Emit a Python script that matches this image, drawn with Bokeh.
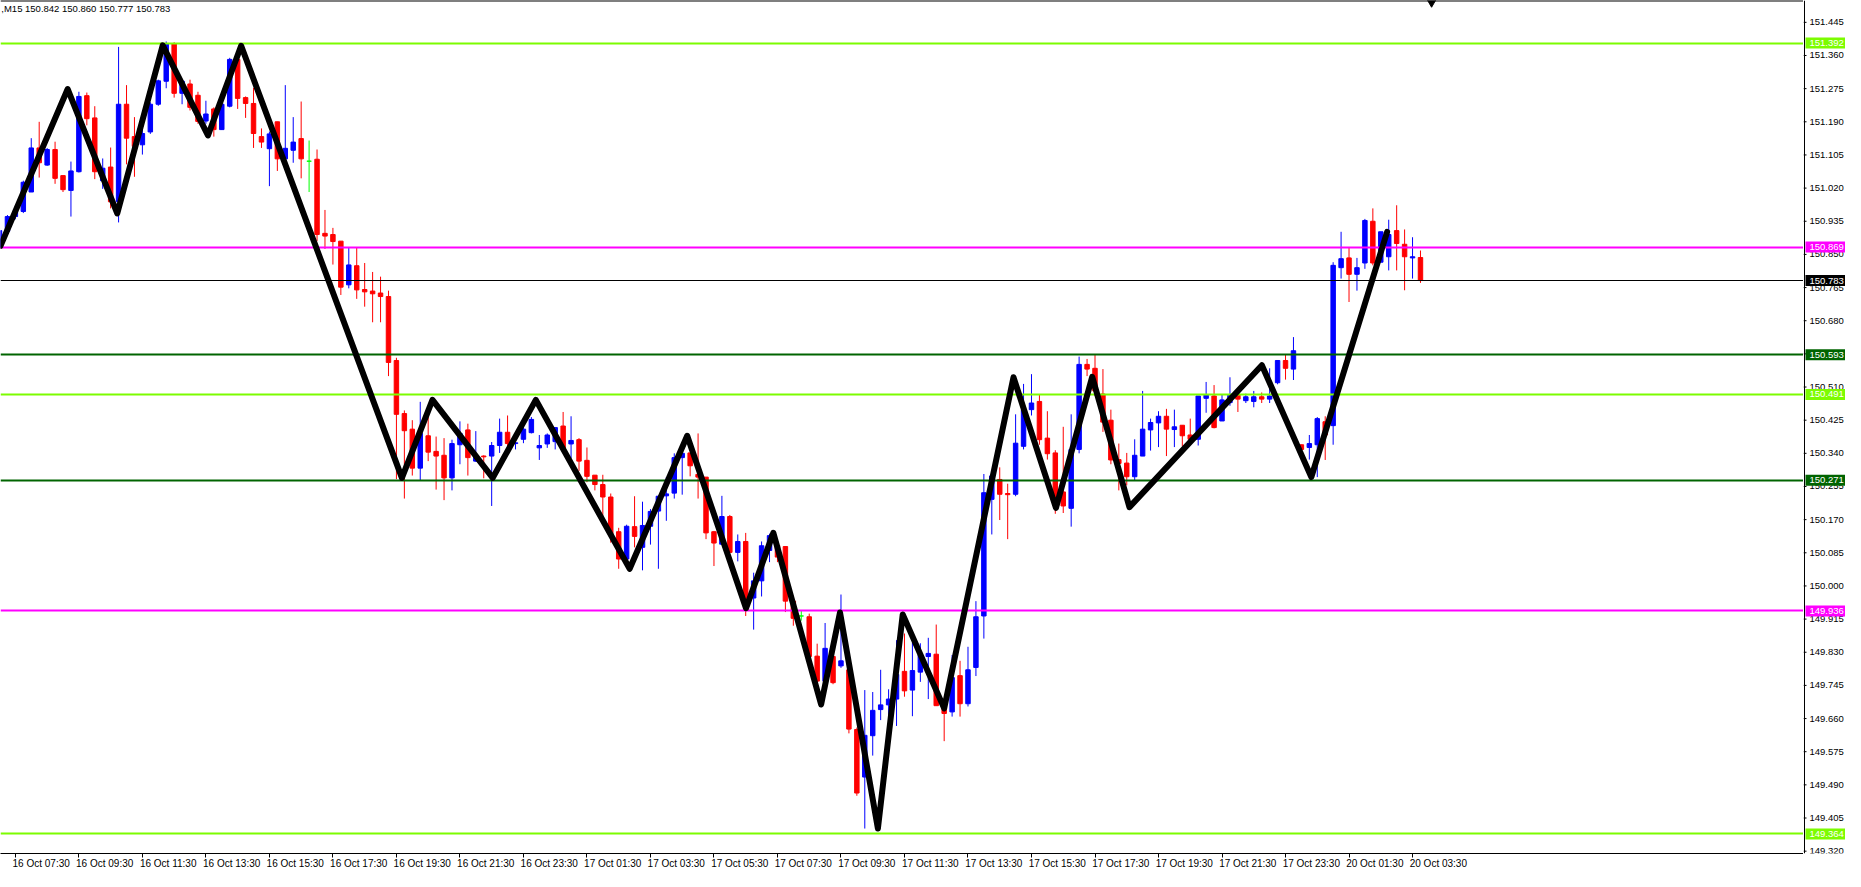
from bokeh.plotting import figure
from bokeh.layouts import row
from bokeh.models import ColumnDataSource, FixedTicker, Range1d, Label
from bokeh.core.properties import value
from bokeh.embed import file_html
from bokeh.resources import INLINE

FONT = "Liberation Sans"
FS = "9.5px"
FS_X = "10px"

# ---------------- data (USDJPY M15, 16 Oct 07:00 -> 20 Oct 03:45) ----------------
opens = [150.868, 150.909, 150.947, 150.960, 151.010, 151.123, 151.079, 151.119, 151.052, 151.014,
         151.062, 151.257, 151.200, 151.039, 151.074, 150.985, 151.235, 151.152, 151.131, 151.164,
         151.235, 151.294, 151.390, 151.263, 151.287, 151.258, 151.192, 151.223, 151.170, 151.230,
         151.350, 151.252, 151.237, 151.152, 151.121, 151.190, 151.095, 151.117, 151.147, 151.089,
         151.094, 150.904, 150.901, 150.884, 150.772, 150.821, 150.760, 150.756, 150.751, 150.742,
         150.578, 150.442, 150.402, 150.302, 150.385, 150.345, 150.335, 150.277, 150.362, 150.400,
         150.320, 150.333, 150.333, 150.360, 150.394, 150.365, 150.376, 150.393, 150.354, 150.364,
         150.370, 150.410, 150.364, 150.375, 150.322, 150.284, 150.260, 150.228, 150.139, 150.069,
         150.152, 150.099, 150.153, 150.192, 150.231, 150.238, 150.329, 150.341, 150.286, 150.279,
         150.139, 150.107, 150.178, 150.086, 150.114, 149.969, 150.013, 150.091, 150.104, 150.101,
         149.961, 149.923, 149.921, 149.820, 149.756, 149.819, 149.795, 149.785, 149.632, 149.510,
         149.616, 149.683, 149.695, 149.710, 149.781, 149.733, 149.779, 149.819, 149.825, 149.693,
         149.677, 149.770, 149.698, 149.791, 149.923, 150.222, 150.273, 150.237, 150.235, 150.358,
         150.452, 150.473, 150.379, 150.341, 150.241, 150.199, 150.350, 150.568, 150.558, 150.492,
         150.425, 150.324, 150.315, 150.280, 150.333, 150.400, 150.418, 150.435, 150.401, 150.412,
         150.387, 150.376, 150.481, 150.487, 150.423, 150.470, 150.489, 150.475, 150.473, 150.485,
         150.479, 150.521, 150.578, 150.556, 150.362, 150.355, 150.362, 150.421, 150.411, 150.816,
         150.841, 150.799, 150.828, 150.935, 150.830, 150.844, 150.911, 150.876, 150.841, 150.842]
highs = [150.918, 150.951, 150.975, 151.039, 151.148, 151.190, 151.123, 151.139, 151.052, 151.088,
         151.267, 151.265, 151.230, 151.096, 151.124, 151.382, 151.284, 151.202, 151.169, 151.240,
         151.298, 151.396, 151.394, 151.298, 151.298, 151.267, 151.244, 151.227, 151.240, 151.354,
         151.353, 151.255, 151.277, 151.173, 151.165, 151.190, 151.284, 151.202, 151.242, 151.142,
         151.119, 150.964, 150.918, 150.884, 150.868, 150.868, 150.828, 150.805, 150.793, 150.757,
         150.585, 150.450, 150.425, 150.472, 150.433, 150.383, 150.379, 150.375, 150.422, 150.416,
         150.397, 150.335, 150.369, 150.429, 150.437, 150.383, 150.416, 150.433, 150.387, 150.391,
         150.406, 150.446, 150.435, 150.379, 150.355, 150.284, 150.285, 150.237, 150.149, 150.157,
         150.230, 150.216, 150.197, 150.230, 150.279, 150.340, 150.350, 150.341, 150.391, 150.279,
         150.141, 150.231, 150.182, 150.132, 150.136, 150.034, 150.114, 150.134, 150.111, 150.101,
         149.961, 149.936, 149.929, 149.852, 149.905, 149.848, 149.978, 149.795, 149.637, 149.733,
         149.728, 149.785, 149.735, 149.861, 149.878, 149.856, 149.853, 149.867, 149.901, 149.706,
         149.823, 149.808, 149.844, 149.961, 150.287, 150.297, 150.304, 150.262, 150.440, 150.518,
         150.543, 150.492, 150.448, 150.348, 150.408, 150.440, 150.588, 150.582, 150.594, 150.556,
         150.452, 150.365, 150.341, 150.376, 150.500, 150.429, 150.448, 150.454, 150.452, 150.412,
         150.429, 150.487, 150.523, 150.515, 150.490, 150.535, 150.489, 150.493, 150.500, 150.496,
         150.558, 150.578, 150.594, 150.638, 150.362, 150.387, 150.433, 150.435, 150.830, 150.908,
         150.868, 150.841, 150.941, 150.968, 150.908, 150.939, 150.976, 150.914, 150.894, 150.860]
lows = [150.864, 150.908, 150.940, 150.956, 151.010, 151.047, 151.077, 151.031, 151.010, 150.947,
        151.060, 151.181, 151.043, 151.018, 150.968, 150.932, 151.081, 151.049, 151.106, 151.159,
        151.231, 151.276, 151.252, 151.235, 151.219, 151.185, 151.185, 151.152, 151.169, 151.227,
        151.223, 151.200, 151.123, 151.123, 151.025, 151.064, 151.085, 151.085, 151.045, 151.010,
        150.884, 150.864, 150.824, 150.746, 150.763, 150.736, 150.716, 150.676, 150.676, 150.538,
        150.274, 150.224, 150.283, 150.270, 150.320, 150.247, 150.220, 150.245, 150.312, 150.283,
        150.318, 150.276, 150.205, 150.341, 150.350, 150.350, 150.366, 150.391, 150.323, 150.354,
        150.350, 150.345, 150.327, 150.295, 150.266, 150.245, 150.178, 150.111, 150.044, 150.061,
        150.099, 150.040, 150.106, 150.044, 150.167, 150.224, 150.234, 150.281, 150.224, 150.120,
        150.051, 150.107, 150.086, 150.063, 149.923, 149.888, 149.973, 150.061, 150.061, 149.933,
        149.898, 149.911, 149.798, 149.748, 149.748, 149.748, 149.790, 149.622, 149.462, 149.378,
        149.565, 149.656, 149.641, 149.641, 149.716, 149.666, 149.754, 149.710, 149.693, 149.602,
        149.665, 149.665, 149.691, 149.769, 149.865, 150.132, 150.169, 150.120, 150.230, 150.350,
        150.437, 150.362, 150.324, 150.185, 150.187, 150.152, 150.340, 150.538, 150.487, 150.395,
        150.312, 150.245, 150.258, 150.270, 150.333, 150.347, 150.356, 150.333, 150.356, 150.358,
        150.370, 150.360, 150.444, 150.404, 150.423, 150.462, 150.446, 150.469, 150.458, 150.469,
        150.469, 150.517, 150.529, 150.528, 150.345, 150.324, 150.279, 150.323, 150.362, 150.788,
        150.728, 150.757, 150.813, 150.822, 150.830, 150.809, 150.809, 150.758, 150.788, 150.777]
closes = [150.911, 150.947, 150.962, 151.035, 151.123, 151.085, 151.119, 151.045, 151.016, 151.064,
          151.255, 151.198, 151.062, 151.071, 150.985, 151.235, 151.148, 151.127, 151.160, 151.235,
          151.295, 151.390, 151.263, 151.294, 151.227, 151.191, 151.210, 151.170, 151.235, 151.350,
          151.250, 151.237, 151.160, 151.138, 151.159, 151.095, 151.122, 151.138, 151.095, 151.089,
          150.901, 150.897, 150.883, 150.766, 150.823, 150.759, 150.754, 150.749, 150.742, 150.573,
          150.440, 150.398, 150.302, 150.391, 150.343, 150.333, 150.277, 150.365, 150.391, 150.329,
          150.333, 150.331, 150.360, 150.394, 150.365, 150.367, 150.402, 150.427, 150.360, 150.387,
          150.406, 150.350, 150.373, 150.320, 150.281, 150.260, 150.228, 150.129, 150.069, 150.153,
          150.127, 150.155, 150.191, 150.230, 150.236, 150.329, 150.340, 150.308, 150.279, 150.136,
          150.110, 150.178, 150.086, 150.114, 149.957, 150.013, 150.103, 150.129, 150.074, 149.961,
          149.917, 149.923, 149.819, 149.756, 149.840, 149.752, 149.808, 149.633, 149.469, 149.617,
          149.681, 149.695, 149.710, 149.773, 149.731, 149.783, 149.823, 149.827, 149.693, 149.673,
          149.765, 149.698, 149.785, 149.921, 150.239, 150.282, 150.235, 150.234, 150.366, 150.452,
          150.469, 150.375, 150.339, 150.207, 150.205, 150.350, 150.568, 150.556, 150.500, 150.420,
          150.323, 150.314, 150.280, 150.335, 150.402, 150.419, 150.435, 150.402, 150.408, 150.385,
          150.376, 150.487, 150.489, 150.406, 150.477, 150.489, 150.479, 150.485, 150.485, 150.479,
          150.487, 150.578, 150.558, 150.603, 150.350, 150.365, 150.429, 150.387, 150.822, 150.839,
          150.799, 150.816, 150.937, 150.828, 150.908, 150.901, 150.878, 150.844, 150.844, 150.783]

# time-axis labels (every 8th M15 bar) and the bar they belong to
x_tick_bars = [2, 10, 18, 26, 34, 42, 50, 58, 66, 74, 82, 90, 98, 106, 114, 122, 130, 138,
               146, 154, 162, 170, 178]
x_tick_labels = ["16 Oct 07:30", "16 Oct 09:30", "16 Oct 11:30", "16 Oct 13:30", "16 Oct 15:30",
                 "16 Oct 17:30", "16 Oct 19:30", "16 Oct 21:30", "16 Oct 23:30", "17 Oct 01:30",
                 "17 Oct 03:30", "17 Oct 05:30", "17 Oct 07:30", "17 Oct 09:30", "17 Oct 11:30",
                 "17 Oct 13:30", "17 Oct 15:30", "17 Oct 17:30", "17 Oct 19:30", "17 Oct 21:30",
                 "17 Oct 23:30", "20 Oct 01:30", "20 Oct 03:30"]

price_ticks = [151.445, 151.360, 151.275, 151.190, 151.105, 151.020, 150.935, 150.850, 150.765,
               150.680, 150.595, 150.510, 150.425, 150.340, 150.255, 150.170, 150.085, 150.000,
               149.915, 149.830, 149.745, 149.660, 149.575, 149.490, 149.405, 149.320]

levels = [151.392, 150.869, 150.783, 150.593, 150.491, 150.271, 149.936, 149.364]
level_colors = ["#7CFC00", "#FF00FF", "#000000", "#006400", "#7CFC00", "#006400", "#FF00FF", "#7CFC00"]
level_widths = [2, 2, 1, 2, 2, 2, 2, 2]

# zigzag pivots (bar position, price)
zz_bar = [0.125, 8.59, 14.83, 20.56, 26.26, 30.44, 50.69, 54.54, 62.13, 67.56, 79.38, 86.63,
          94.04, 97.48, 103.5, 105.88, 110.65, 113.78, 119.0, 127.73, 133.08, 137.65, 142.34,
          159.02, 165.25, 174.8]
zz_price = [150.872, 151.274, 150.955, 151.386, 151.155, 151.385, 150.277, 150.477, 150.277,
            150.477, 150.044, 150.385, 149.943, 150.136, 149.696, 149.932, 149.378, 149.927,
            149.686, 150.535, 150.200, 150.536, 150.202, 150.566, 150.279, 150.908]

header = ",M15  150.842 150.860 150.777 150.783"

# ---------------- layout ----------------
X0, X1 = 0.125, 227.25
Y0, Y1 = 149.314, 151.501
H = 871
BOT = 16          # room for the time labels
SCALE_W = 42      # width of the price scale strip
MAIN_W = 1845 - SCALE_W

p = figure(width=MAIN_W, height=H, output_backend="svg", toolbar_location=None,
           x_range=Range1d(X0, X1), y_range=Range1d(Y0, Y1), y_axis_location=None,
           min_border_left=0, min_border_top=0, min_border_right=0, min_border_bottom=BOT)
p.xgrid.visible = False
p.ygrid.visible = False
p.outline_line_color = None
p.background_fill_color = "white"
p.border_fill_color = "white"

# time axis: labels sit to the right of their tick mark
off = 3.25
xa = p.xaxis[0]
xa.ticker = FixedTicker(ticks=[b + off for b in x_tick_bars], minor_ticks=x_tick_bars)
xa.major_label_overrides = {b + off: t for b, t in zip(x_tick_bars, x_tick_labels)}
xa.major_tick_line_color = None
xa.major_tick_out = 0
xa.major_tick_in = 0
xa.minor_tick_line_color = "black"
xa.minor_tick_out = 4
xa.minor_tick_in = 0
xa.major_label_standoff = 0
xa.axis_label_standoff = 0
xa.axis_line_color = "black"
xa.major_label_text_font = FONT
xa.major_label_text_font_size = FS_X
xa.major_label_text_color = "black"

# top border of the chart window
p.hspan(y=[Y1], line_color="black", line_width=2)

# candles
src = ColumnDataSource(dict(
    x=list(range(len(opens))), h=highs, l=lows,
    top=[max(o, c) for o, c in zip(opens, closes)],
    bot=[min(o, c) for o, c in zip(opens, closes)],
    col=["#0000FF" if c > o else ("#FF0000" if c < o else "#00FF00") for o, c in zip(opens, closes)],
))
p.segment(x0="x", y0="l", x1="x", y1="h", line_color="col", line_width=1, source=src)
p.vbar(x="x", top="top", bottom="bot", width=0.56, fill_color="col", line_color="col",
       line_width=1, source=src)

# horizontal levels
lsrc = ColumnDataSource(dict(y=levels, c=level_colors, w=level_widths))
p.hspan(y="y", line_color="c", line_width="w", source=lsrc)

# zigzag
p.line(zz_bar, zz_price, line_color="black", line_width=6, line_join="round", line_cap="round")

# chart-shift marker
p.scatter([180.4], [Y1 - 0.004], marker="inverted_triangle", size=9, color="black")

# header
p.add_layout(Label(x=X0 + 0.1, y=Y1 - 0.021, text=header, text_color="black",
                   text_font=FONT, text_font_size=FS, text_align="left", text_baseline="middle"))

# ---------------- price scale strip (shares the price range) ----------------
s = figure(width=SCALE_W, height=H, output_backend="svg", toolbar_location=None,
           x_range=Range1d(0, SCALE_W), y_range=p.y_range, x_axis_location=None,
           y_axis_location=None, min_border_left=0, min_border_top=0, min_border_right=0,
           min_border_bottom=BOT)
s.xgrid.visible = False
s.ygrid.visible = False
s.outline_line_color = None
s.background_fill_color = "white"
s.border_fill_color = "white"

s.vspan(x=[0.5], line_color="black", line_width=1)
s.segment(x0=0, x1=3, y0=price_ticks, y1=price_ticks, line_color="black", line_width=1)
s.text(x=6, y=price_ticks, text=[f"{t:.3f}" for t in price_ticks], text_color="black",
       text_font=value(FONT), text_font_size=value(FS), text_align="left", text_baseline="middle")

bsrc = ColumnDataSource(dict(y=levels, c=level_colors, t=[f"{v:.3f}" for v in levels]))
s.rect(x=22, y="y", width=40, height=11, height_units="screen", fill_color="c", line_color=None,
       source=bsrc)
s.text(x=6, y="y", text="t", text_color="white", text_font=value(FONT), text_font_size=value(FS),
       text_align="left", text_baseline="middle", source=bsrc)

layout = row(p, s, spacing=0)
open("out.html", "w").write(file_html(layout, INLINE))
